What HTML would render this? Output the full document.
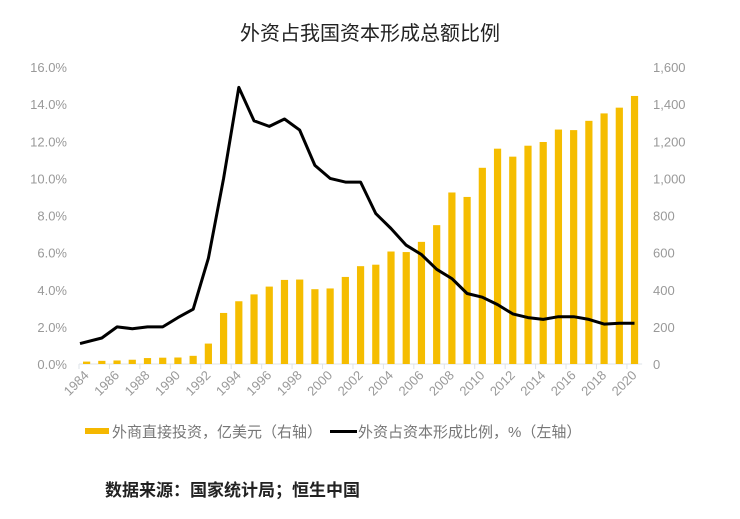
<!DOCTYPE html>
<html><head><meta charset="utf-8"><style>
body{margin:0;background:#fff;width:740px;height:514px;overflow:hidden;font-family:"Liberation Sans","Noto Sans CJK SC",sans-serif}
</style></head><body>
<svg id="c" width="740" height="514" xmlns="http://www.w3.org/2000/svg" font-family="Liberation Sans, Noto Sans CJK SC, sans-serif">
<text x="370" y="40" text-anchor="middle" font-size="20" fill="#222">外资占我国资本形成总额比例</text>
<rect x="85" y="428" width="24" height="6" fill="#F5B800"/>
<text x="112" y="437" font-size="15" fill="#777">外商直接投资，亿美元（右轴）</text>
<rect x="330" y="430" width="27" height="3" fill="#000"/>
<text x="358" y="437" font-size="15" fill="#777">外资占资本形成比例，%（左轴）</text>
<text x="105" y="496" font-size="17" font-weight="bold" fill="#222">数据来源：国家统计局；恒生中国</text>
</svg>
<script>
(function(){
var s=document.getElementById('c'),ns='http://www.w3.org/2000/svg';
function el(t,a,txt){var e=document.createElementNS(ns,t);for(var k in a)e.setAttribute(k,a[k]);if(txt!=null)e.textContent=txt;s.appendChild(e);return e;}
var x0=79,w=15.22,y0=364,yt=67,h=y0-yt;
var bars=[13,17,19,23,32,34,35,44,110,275,338,375,417,453,455,403,407,469,527,535,606,603,658,748,924,900,1057,1160,1117,1176,1196,1263,1260,1310,1350,1381,1444];
var line=[1.1,1.4,2.0,1.9,2.0,2.0,2.5,2.95,5.7,10.0,14.9,13.1,12.8,13.2,12.6,10.7,10.0,9.8,9.8,8.1,7.3,6.4,5.9,5.1,4.6,3.8,3.6,3.2,2.7,2.5,2.4,2.55,2.55,2.4,2.15,2.2,2.2];
for(var i=0;i<=8;i++){var y=y0-h*i/8;
el('text',{x:67,y:y+5,'text-anchor':'end','font-size':13,fill:'#999'},(i*2).toFixed(1)+'%');
var v=i*200;el('text',{x:653,y:y+5,'font-size':13,fill:'#999'},v>=1000?Math.floor(v/1000)+','+String(v%1000).padStart(3,'0'):String(v));}
el('line',{x1:x0,y1:y0,x2:x0+37*w,y2:y0,stroke:'#dde3ea','stroke-width':1});
for(var i=0;i<37;i++){var cx=x0+(i+.5)*w;var bh=bars[i]/1600*h;
el('rect',{x:cx-3.6,y:y0-bh,width:7.2,height:bh,fill:'#F5BD00'});
if(i%2==0){el('line',{x1:x0+i*w,y1:y0,x2:x0+i*w,y2:y0+5,stroke:'#dde3ea'});
el('text',{x:cx+3,y:y0+12,'text-anchor':'end','font-size':13,fill:'#999',transform:'rotate(-45 '+(cx+3)+' '+(y0+12)+')'},String(1984+i));}}
var p='';for(var i=0;i<37;i++){var cx=i==0?x0+1:x0+(i+.5)*w;p+=(i?'L':'M')+cx.toFixed(1)+' '+(y0-line[i]/16*h).toFixed(1);}
el('path',{d:p,fill:'none',stroke:'#000','stroke-width':3,'stroke-linejoin':'round'});
})();
</script>
</body></html>
